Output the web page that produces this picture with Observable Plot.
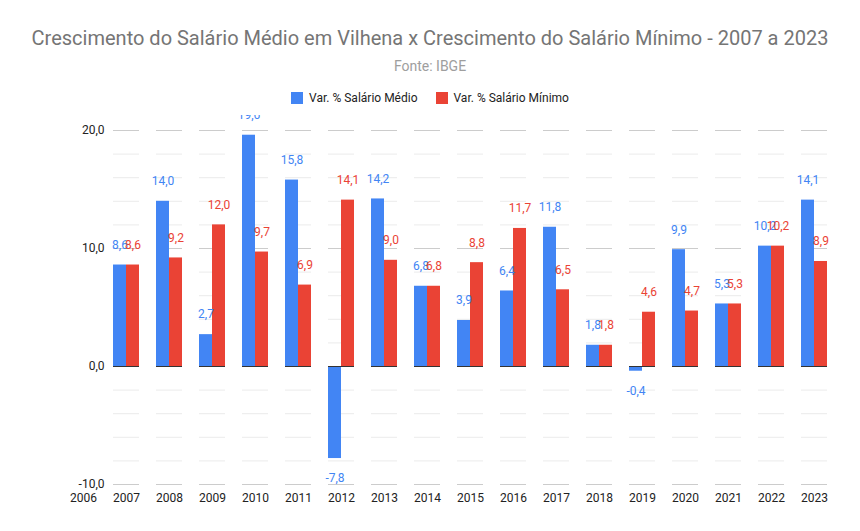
<!DOCTYPE html>
<html><head><meta charset="utf-8">
<script src="https://cdn.jsdelivr.net/npm/d3@7"></script>
<script src="https://cdn.jsdelivr.net/npm/@observablehq/plot@0.6"></script>
<style>
body{margin:0;background:#fff;font-family:Roboto,"Noto Sans",sans-serif;}
#head{height:115px;position:relative;}
#t{position:absolute;top:26px;width:860px;text-align:center;font-size:20px;color:#757575;}
#s{position:absolute;top:58px;width:860px;text-align:center;font-size:14px;color:#9e9e9e;}
#l{position:absolute;top:91px;width:860px;text-align:center;font-size:12px;color:#222;}
.sw{display:inline-block;width:12px;height:12px;vertical-align:-2px;margin-right:6px;}
</style></head><body>
<div id="head">
<div id="t">Crescimento do Salário Médio em Vilhena x Crescimento do Salário Mínimo - 2007 a 2023</div>
<div id="s">Fonte: IBGE</div>
<div id="l"><span class="sw" style="background:#4285f4"></span>Var. % Salário Médio<span style="display:inline-block;width:18px"></span><span class="sw" style="background:#ea4335"></span>Var. % Salário Mínimo</div>
</div>
<div id="c"></div>
<script>
const years = ["2006","2007","2008","2009","2010","2011","2012","2013","2014","2015","2016","2017","2018","2019","2020","2021","2022","2023"];
const medio = [null,8.6,14.0,2.7,19.6,15.8,-7.8,14.2,6.8,3.9,6.4,11.8,1.8,-0.4,9.9,5.3,10.2,14.1];
const minimo = [null,8.6,9.2,12.0,9.7,6.9,14.1,9.0,6.8,8.8,11.7,6.5,1.8,4.6,4.7,5.3,10.2,8.9];
const seriesNames = ["Var. % Salário Médio","Var. % Salário Mínimo"];
const colors = ["#4285f4","#ea4335"];
const data = [];
years.forEach((y,i)=>{
  if(medio[i]!=null) data.push({year:y,s:seriesNames[0],v:medio[i]});
  if(minimo[i]!=null) data.push({year:y,s:seriesNames[1],v:minimo[i]});
});
const fmt = v => v.toFixed(1).replace(".",",");
const pos = data.filter(d=>d.v>=0), neg = data.filter(d=>d.v<0);
const chart = Plot.plot({
  width:860, height:410, marginTop:15, marginBottom:41, marginLeft:66, marginRight:30,
  style:{fontFamily:"Roboto, sans-serif", fontSize:"12px", color:"#222"},
  fx:{domain:years, padding:0.4, label:null, axis:"bottom", tickSize:0},
  x:{domain:seriesNames, padding:0, axis:null},
  y:{domain:[-10,20], label:null, ticks:[-10,0,10,20], tickFormat:fmt, tickSize:0},
  color:{domain:seriesNames, range:colors},
  marks:[
    Plot.gridY(d3.range(-10,21,2).filter(v=>v%10!==0),{stroke:"#ebebeb",strokeOpacity:1}),
    Plot.gridY([-10,10,20],{stroke:"#cccccc",strokeOpacity:1}),
    Plot.barY(data,{fx:"year",x:"s",y:"v",fill:"s"}),
    Plot.ruleY([0],{stroke:"#333"}),
    Plot.text(pos,{fx:"year",x:"s",y:"v",text:d=>fmt(d.v),fill:"s",dy:-20,fontSize:12}),
    Plot.text(neg,{fx:"year",x:"s",y:"v",text:d=>fmt(d.v),fill:"s",dy:20,fontSize:12})
  ]
});
document.getElementById("c").appendChild(chart);
</script>
</body></html>
